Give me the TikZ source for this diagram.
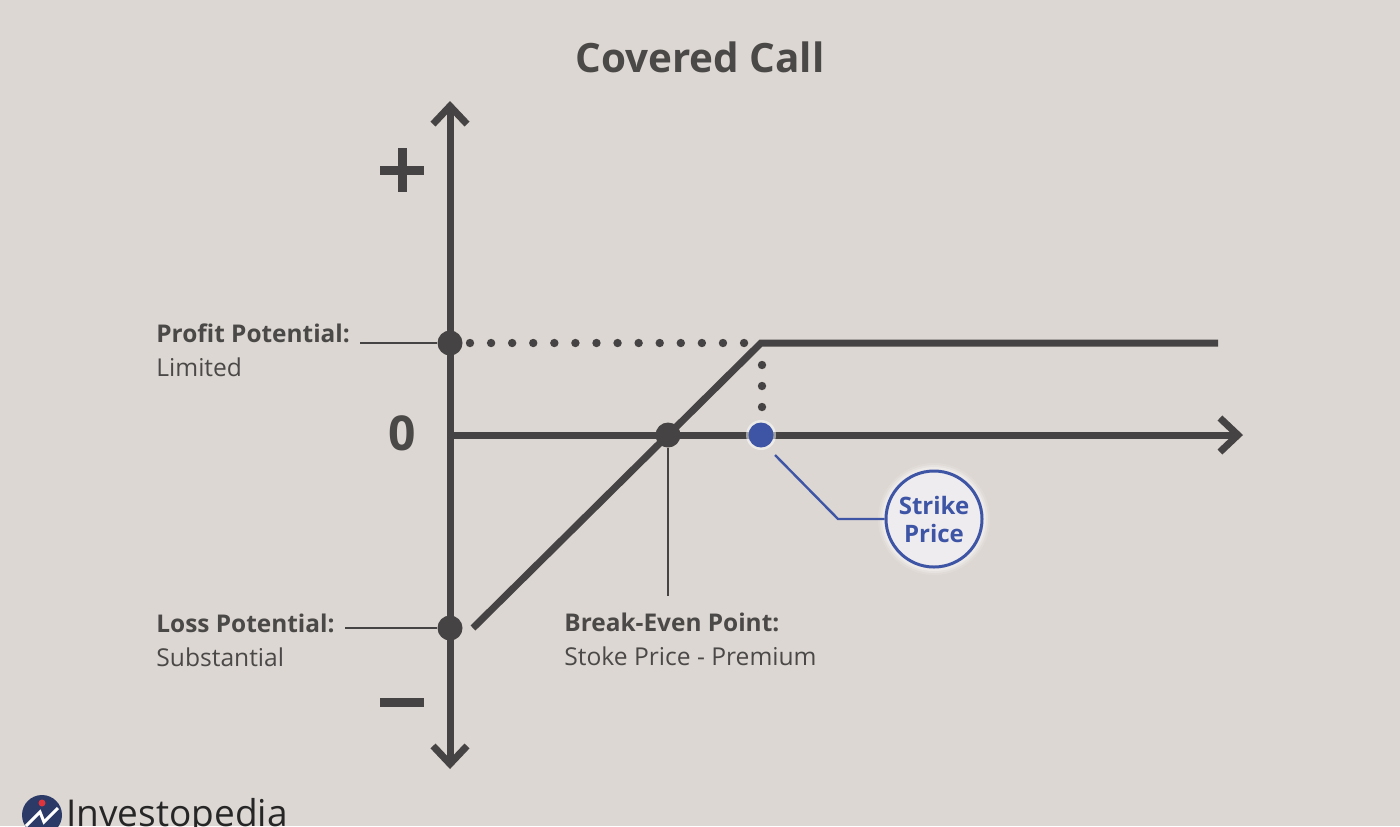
\documentclass[tikz,border=0pt]{standalone}
\usepackage{fontspec}
\setmainfont{Open Sans}
\usetikzlibrary{arrows.meta}
\definecolor{bg}{HTML}{DCD7D2}
\definecolor{ink}{HTML}{454343}
\definecolor{txt}{HTML}{4B4948}
\definecolor{blu}{HTML}{3E55A6}
\definecolor{cfill}{HTML}{EEECEF}
\definecolor{navy}{HTML}{2B3A67}
\definecolor{logored}{HTML}{E0343C}
\begin{document}
\begin{tikzpicture}[x=0.5pt,y=-0.5pt,
  axis/.style={draw=ink,line width=3.5pt,-{Straight Barb[length=9pt,width=17pt]}},
  payoff/.style={draw=ink,line width=3.5pt},
  thin/.style={draw=ink,line width=1.2pt},
  bigdot/.style={circle,fill=ink,inner sep=0pt,minimum size=12.5pt},
  lbl/.style={anchor=west,text=txt,font=\fontsize{12.3}{14}\selectfont,inner sep=0pt},
  blbl/.style={lbl,font=\fontsize{12.2}{14}\selectfont\bfseries}]
\useasboundingbox (0,0) rectangle (1400,826);
\fill[bg] (0,0) rectangle (1400,826);

% title
\node[text=txt,font=\fontsize{20.2}{23}\selectfont\bfseries] (title) at (700,57) {Covered Call};

% axis coordinates
\coordinate (O) at (450,435);
\coordinate (ytop) at (450,101);
\coordinate (ybot) at (450,769);
\coordinate (xend) at (1243,435);

\draw[axis] (O) -- (ytop);
\draw[axis] (O) -- (ybot);
\draw[axis] (O) -- (xend);

% plus, minus, zero
\node[inner sep=0pt,minimum size=0pt] (plus) at (402,170) {};
\draw[ink,line width=4.5pt] (380,170) -- (424,170) (402,148) -- (402,192);
\node[inner sep=0pt] (minus) at (402,702) {};
\draw[ink,line width=4.5pt] (380,702) -- (424,702);
\node[text=txt,font=\fontsize{24}{28}\selectfont\bfseries] (zero) at (402,433) {0};

% payoff line
\coordinate (pstart) at (473,628);
\coordinate (corner) at (761,343);
\coordinate (pend) at (1218,343);
\draw[payoff] (pstart) -- (corner) -- (pend);

% dotted lines
\foreach \i in {0,...,13} \fill[ink] (470+\i*21.08,343) circle (4.2);
\foreach \y in {365,386,407} \fill[ink] (762,\y) circle (4.2);

% profit potential
\node[bigdot] (pdot) at (450,343) {};
\coordinate (pl) at (360,343);
\draw[thin] (pl) -- (pdot);
\node[blbl] (ptitle) at (156,333) {Profit Potential:};
\node[lbl] (ptext) at (156,367) {Limited};

% loss potential
\node[bigdot] (ldot) at (450,628) {};
\coordinate (ll) at (345,628);
\draw[thin] (ll) -- (ldot);
\node[blbl] (ltitle) at (156,623) {Loss Potential:};
\node[lbl] (ltext) at (156,657) {Substantial};

% break-even
\node[bigdot] (bdot) at (668,435) {};
\coordinate (bl) at (668,596);
\draw[thin] (bdot) -- (bl);
\node[blbl] (btitle) at (564,622) {Break-Even Point:};
\node[lbl] (btext) at (564,656) {Stoke Price - Premium};

% strike price
\fill[white,opacity=0.5] (761,435) circle (15);
\node[circle,fill=blu,inner sep=0pt,minimum size=12.5pt] (sdot) at (761,435) {};
\foreach \r/\o in {56/0.12,54/0.2,52/0.3} \fill[white,opacity=\o] (934,519) circle (\r);
\node[circle,draw=blu,line width=1.5pt,fill=cfill,minimum size=48pt,inner sep=0pt,align=center,
      text=blu,font=\fontsize{12}{14}\selectfont\bfseries] (strike) at (934,519) {Strike\\Price};
\coordinate (sk) at (838,519);
\draw[blu,line width=1.2pt] (775,455) -- (sk) -- (strike.west);

% logo
\node[circle,fill=navy,minimum size=20pt,inner sep=0pt] (logo) at (42,815) {};
\fill[logored] (42,803) circle (3.5);
\draw[white,line width=1.5pt] (26,826) -- (40,812) -- (44,822) -- (58,808);
\node[anchor=base west,inner sep=0pt,text=black!85,font=\fontsize{18.5}{20}\selectfont] (brand) at (66,826) {Investopedia};
\end{tikzpicture}
\end{document}
